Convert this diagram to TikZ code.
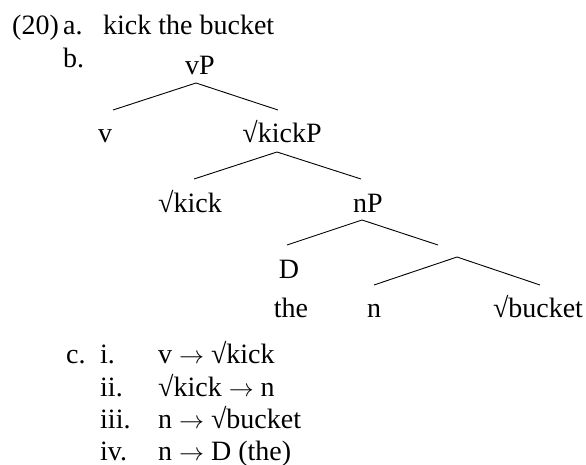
\documentclass[tikz,border=0pt]{standalone}
\usepackage{fontspec}
\setmainfont{Liberation Serif}
\usepackage{tikz}
\usetikzlibrary{positioning}

\newcommand{\arr}{$\rightarrow$}

\begin{document}
\begin{tikzpicture}[x=1pt, y=-1pt,
  lbl/.style={anchor=base, inner sep=0pt, font=\fontsize{28}{32}\selectfont},
  lft/.style={lbl, anchor=base west},
  branch/.style={line width=0.9pt}]
\useasboundingbox (0,0) rectangle (586,465);

% (20) a. and b.
\node[lft] (num)  at (12,35)  {(20)};
\node[lft] (ia)   at (63,35)  {a.};
\node[lft] (idiom) at (103,35) {kick the bucket};
\node[lft] (ib)   at (63,68)  {b.};

% tree labels
\node[lbl] (vP)     at (200,75)  {vP};
\node[lbl] (v)      at (105,143) {v};
\node[lbl] (kickP)  at (282,143) {√kickP};
\node[lbl] (kick)   at (190,212) {√kick};
\node[lbl] (nP)     at (368,212) {nP};
\node[lbl] (D)      at (289,278) {D};
\node[lbl] (the)    at (291,317) {the};
\node[lbl] (n)      at (374,317) {n};
\node[lbl] (bucket) at (538,317) {√bucket};

% branch points
\coordinate (vPtop)    at (196,83);
\coordinate (vPl)      at (113,110);
\coordinate (vPr)      at (278,110);
\coordinate (kickPtop) at (277,152);
\coordinate (kickPl)   at (194,179);
\coordinate (kickPr)   at (361,179);
\coordinate (nPtop)    at (362,220);
\coordinate (nPl)      at (287,245);
\coordinate (nPr)      at (438,245);
\coordinate (nbar)     at (457,257);
\coordinate (nbarl)    at (374,285);
\coordinate (nbarr)    at (540,285);

\draw[branch] (vPl) -- (vPtop) -- (vPr);
\draw[branch] (kickPl) -- (kickPtop) -- (kickPr);
\draw[branch] (nPl) -- (nPtop) -- (nPr);
\draw[branch] (nbarl) -- (nbar) -- (nbarr);

% c. linearization
\node[lft] (ic)   at (66,363)  {c.};
\node[lft] (c1)   at (100,363) {i.};
\node[lft] (c2)   at (100,396) {ii.};
\node[lft] (c3)   at (100,428) {iii.};
\node[lft] (c4)   at (100,460) {iv.};
\node[lft] (r1)   at (158,363) {v \arr{} √kick};
\node[lft] (r2)   at (158,396) {√kick \arr{} n};
\node[lft] (r3)   at (158,428) {n \arr{} √bucket};
\node[lft] (r4)   at (158,460) {n \arr{} D (the)};
\end{tikzpicture}
\end{document}
